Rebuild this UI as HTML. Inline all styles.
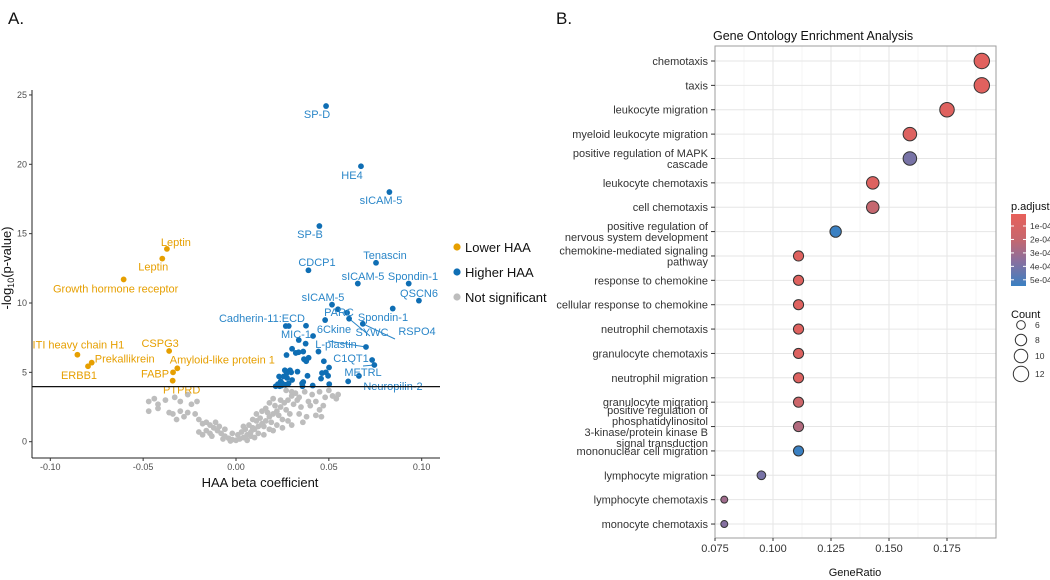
<!DOCTYPE html>
<html><head><meta charset="utf-8"><style>
body{margin:0;background:#fff;}
svg{display:block;font-family:"Liberation Sans",sans-serif;}
</style></head><body>
<svg id="s" width="1050" height="580" viewBox="0 0 1050 580">
<defs><linearGradient id="cb" x1="0" y1="0" x2="0" y2="1"><stop offset="0" stop-color="#e8605a"/><stop offset="0.35" stop-color="#c6676e"/><stop offset="0.65" stop-color="#8a6f9e"/><stop offset="1" stop-color="#3a80c2"/></linearGradient></defs>
<text x="8" y="24" font-size="17" fill="#111">A.</text>
<text x="556" y="24" font-size="17" fill="#111">B.</text>
<g id="A"></g>
<g id="B"></g>
</svg>
<script>
const NS='http://www.w3.org/2000/svg';
function mk(p,t,a,txt){const e=document.createElementNS(NS,t);for(const k in a)e.setAttribute(k,a[k]);if(txt!==undefined)e.textContent=txt;p.appendChild(e);return e;}
// ---------- Volcano data ----------
const xTicks=[-0.10,-0.05,0.00,0.05,0.10];
const xTickLabels=['-0.10','-0.05','0.00','0.05','0.10'];
const yTicks=[0,5,10,15,20,25];
const threshold=3.97;
const lowNames=['Leptin','Leptin','Growth hormone receptor','ITI heavy chain H1','Prekallikrein','ERBB1','CSPG3','Amyloid-like protein 1','FABP','PTPRD'];
const lowBeta=[-0.0372,-0.0397,-0.0605,-0.0854,-0.0777,-0.0797,-0.036,-0.0316,-0.0339,-0.0341];
const lowLogP=[13.9,13.2,11.7,6.27,5.7,5.44,6.54,5.29,5.0,4.4];
const lowLabelDx=[9,-9,-8,1,33,-9,-9,45,-18,9];
const lowLabelDy=[-7,8,9,-10,-4,9,-8,-9,1,9];
const highNames=['SP-D','HE4','sICAM-5','SP-B','Tenascin','CDCP1','sICAM-5','Spondin-1','QSCN6','sICAM-5','PARC','Spondin-1','Cadherin-11:ECD','6Ckine','MIC-1','SYWC','RSPO4','L-plastin','C1QT1','METRL','Neuropilin-2'];
const highBeta=[0.0485,0.0673,0.0826,0.0449,0.0754,0.039,0.0656,0.093,0.0985,0.0517,0.0549,0.0844,0.0377,0.048,0.0415,0.0609,0.0683,0.070,0.0733,0.0662,0.0745];
const highLogP=[24.2,19.86,18.0,15.55,12.9,12.36,11.4,11.4,10.17,9.88,9.55,9.6,8.36,8.77,7.62,8.87,8.5,6.83,5.89,4.74,5.53];
const highLabelX=[317,352,381,310,385,317,363,413,419,323,339,383,262,334,296,372,417,336,351,363,393];
const highLabelY=[114,175,200,234,255,262,276,276,293,297,312,317,318,329,334,332,331,344,358,372,386];
const hiBeta=[0.0598,0.0268,0.0284,0.0338,0.0375,0.0302,0.0322,0.0337,0.0272,0.0362,0.0391,0.0444,0.0366,0.0378,0.0473,0.0263,0.0291,0.0297,0.0273,0.0331,0.0501,0.0484,0.0463,0.0256,0.0275,0.0302,0.0232,0.0241,0.0249,0.0235,0.0214,0.0226,0.0245,0.0265,0.0283,0.0356,0.0358,0.0385,0.0413,0.0458,0.0496,0.0502,0.0604,0.0362];
const hiLogP=[9.3,8.34,8.34,7.33,7.07,6.7,6.4,6.45,6.25,6.5,6.05,6.5,5.95,5.8,5.8,5.15,5.15,5.0,4.95,5.05,5.35,5.0,4.95,4.7,4.6,4.45,4.7,4.35,4.2,4.0,4.0,4.15,4.05,4.1,4.2,4.2,4.0,4.75,4.05,4.55,4.75,4.15,4.35,4.3];
const grayBeta=[0,0.002,-0.002,0.004,-0.004,0.006,-0.006,0.008,-0.008,0.01,-0.01,0.012,0.014,0.016,0.018,0.02,0.022,0.024,0.026,0.028,0.03,0.032,0.001,0.003,0.005,0.007,0.009,0.011,0.013,0.015,0.017,0.019,0.021,0.023,0.025,0.027,0.029,0.031,0.033,0.035,0.037,0.039,0.041,0.043,0.045,0.047,0.05,0.052,0.054,0.038,0.034,0.036,0.028,0.022,0.018,0.012,0.008,-0.012,-0.014,-0.016,-0.018,-0.02,-0.022,-0.024,-0.021,-0.026,-0.028,-0.03,-0.032,-0.034,-0.036,-0.038,-0.042,-0.044,-0.047,-0.047,-0.042,-0.033,-0.03,-0.026,-0.016,-0.014,-0.018,-0.02,-0.003,0.006,0.01,0.015,0.02,0.025,0.03,0.016,0.024,0.027,0.03,0.034,0.04,0.045,0.048,0.018,0.02,0.011,0.014,0.009,0.004,-0.002,-0.006,-0.009,-0.011,-0.013,-0.007,0.043,0.046,0.055];
const grayLogP=[0.1,0.2,0.15,0.3,0.25,0.5,0.4,0.7,0.6,0.9,0.8,1.1,1.3,1.5,1.8,2.0,2.2,2.5,2.8,3.0,3.3,3.5,0.5,0.7,0.9,1.2,1.0,1.5,1.7,1.1,2.1,1.4,2.6,1.9,1.6,2.3,2.0,2.7,3.0,2.5,3.6,2.9,3.4,1.9,2.3,2.6,3.7,3.3,3.1,1.8,2.0,1.4,1.5,1.2,0.9,0.6,0.4,1.0,1.2,1.4,1.3,1.6,2.0,2.7,2.9,2.1,1.8,2.2,1.6,2.0,2.1,3.0,2.7,3.1,2.9,2.2,2.4,3.2,2.9,3.4,0.8,0.6,0.5,0.7,0.05,0.1,0.3,0.5,0.8,1.0,1.2,2.4,3.0,3.7,3.6,3.2,2.6,3.6,3.2,2.8,3.1,2.0,2.2,1.6,1.1,0.6,0.9,1.1,1.4,0.4,0.2,2.9,1.8,3.4];
const legendNames=['Lower HAA','Higher HAA','Not significant'];
// ---------- GO data ----------
const goTerms=[['chemotaxis'],['taxis'],['leukocyte migration'],['myeloid leukocyte migration'],['positive regulation of MAPK','cascade'],['leukocyte chemotaxis'],['cell chemotaxis'],['positive regulation of','nervous system development'],['chemokine-mediated signaling','pathway'],['response to chemokine'],['cellular response to chemokine'],['neutrophil chemotaxis'],['granulocyte chemotaxis'],['neutrophil migration'],['granulocyte migration'],['positive regulation of','phosphatidylinositol','3-kinase/protein kinase B','signal transduction'],['mononuclear cell migration'],['lymphocyte migration'],['lymphocyte chemotaxis'],['monocyte chemotaxis']];
const geneRatio=[0.190,0.190,0.175,0.159,0.159,0.143,0.143,0.127,0.111,0.111,0.111,0.111,0.111,0.111,0.111,0.111,0.111,0.095,0.079,0.079];
const geneCount=[12,12,11,10,10,9,9,8,7,7,7,7,7,7,7,7,7,6,5,5];
const pAdjust=[0.5e-4,0.5e-4,0.6e-4,0.7e-4,4.0e-4,0.7e-4,2.0e-4,5.5e-4,0.6e-4,0.6e-4,0.6e-4,0.6e-4,0.7e-4,0.7e-4,1.6e-4,2.5e-4,5.5e-4,4.0e-4,3.0e-4,3.7e-4];
const grTicks=[0.075,0.100,0.125,0.150,0.175];
const grTickLabels=['0.075','0.100','0.125','0.150','0.175'];
const pTicks=[1e-4,2e-4,3e-4,4e-4,5e-4];
const pTickLabels=['1e-04','2e-04','3e-04','4e-04','5e-04'];
const countLegend=[6,8,10,12];

// ---------- Volcano draw ----------
const A=document.getElementById('A');
const xs=v=>236+v*1857, ys=v=>441.7-v*13.87;
const ORANGE='#e69f00', BLUE='#0f6eb4', LBLUE='#2a86c8', GRAY='#bdbdbd';
grayBeta.forEach((b,i)=>{const c=mk(A,'circle',{cx:xs(b),cy:ys(grayLogP[i]),r:2.9,fill:GRAY});

});
hiBeta.forEach((b,i)=>{const c=mk(A,'circle',{cx:xs(b),cy:ys(hiLogP[i]),r:2.9,fill:BLUE});

});
const conn=[[15,-2,4],[16,-22,8],[17,-8,-3],[20,-30,-20]];
conn.forEach(([i,dx,dy])=>{mk(A,'line',{x1:xs(highBeta[i]),y1:ys(highLogP[i]),x2:highLabelX[i]+dx,y2:highLabelY[i]+dy,stroke:LBLUE,'stroke-width':1});});
highBeta.forEach((b,i)=>{const c=mk(A,'circle',{cx:xs(b),cy:ys(highLogP[i]),r:2.9,fill:BLUE});


const t=mk(A,'text',{x:highLabelX[i],y:highLabelY[i]+4,'font-size':11,fill:LBLUE,'text-anchor':'middle'},highNames[i]);

});
lowBeta.forEach((b,i)=>{const px=xs(b),py=ys(lowLogP[i]);const c=mk(A,'circle',{cx:px,cy:py,r:2.9,fill:ORANGE});


const t=mk(A,'text',{x:px+lowLabelDx[i],y:py+lowLabelDy[i]+4,'font-size':11,fill:ORANGE,'text-anchor':'middle'},lowNames[i]);

});
mk(A,'line',{x1:32,x2:440,y1:ys(threshold),y2:ys(threshold),stroke:'#111','stroke-width':1.2});
mk(A,'line',{x1:32,x2:32,y1:90,y2:458,stroke:'#222','stroke-width':1});
mk(A,'line',{x1:32,x2:440,y1:458,y2:458,stroke:'#222','stroke-width':1});
xTicks.forEach((v,i)=>{mk(A,'line',{x1:xs(v),x2:xs(v),y1:458,y2:461,stroke:'#333'});
const t=mk(A,'text',{x:xs(v),y:470,'font-size':9,fill:'#4d4d4d','text-anchor':'middle'},xTickLabels[i]);

});
yTicks.forEach(v=>{mk(A,'line',{x1:29,x2:32,y1:ys(v),y2:ys(v),stroke:'#333'});
const t=mk(A,'text',{x:27,y:ys(v)+3,'font-size':9,fill:'#4d4d4d','text-anchor':'end'},v);

});
const xt=mk(A,'text',{x:260,y:487,'font-size':13,fill:'#111','text-anchor':'middle'},'HAA beta coefficient');


const yt=mk(A,'text',{x:0,y:0,'font-size':13,fill:'#111','text-anchor':'middle',transform:'translate(11,268) rotate(-90)'});
yt.innerHTML='-log<tspan font-size="9" dy="3">10</tspan><tspan dy="-3">(p-value)</tspan>';


[ORANGE,BLUE,GRAY].forEach((c,i)=>{mk(A,'circle',{cx:457,cy:247+i*25,r:3.6,fill:c});
const t=mk(A,'text',{x:465,y:252+i*25,'font-size':13,fill:'#111'},legendNames[i]);

});

// ---------- GO draw ----------
const B=document.getElementById('B');
const L=715,R=996,T=46,Bt=538;
const gx=v=>715+(v-0.075)*2320;
const gy=i=>61+i*24.37;
const rr=c=>Math.sqrt(12.25+(c-5)*6.72);
function pcol(p){const stops=[[0,[232,96,90]],[0.35,[198,103,110]],[0.65,[138,111,158]],[1,[58,128,194]]];let t=(p-0.1e-4)/(5.45e-4-0.1e-4);t=Math.max(0,Math.min(1,t));for(let k=1;k<stops.length;k++){if(t<=stops[k][0]){const a=stops[k-1],b=stops[k],f=(t-a[0])/(b[0]-a[0]);return 'rgb('+a[1].map((v,j)=>Math.round(v+(b[1][j]-v)*f)).join(',')+')';}}return 'rgb(58,128,194)';}
mk(B,'rect',{x:L,y:T,width:R-L,height:Bt-T,fill:'#fff'});
grTicks.forEach(v=>mk(B,'line',{x1:gx(v+0.0125),x2:gx(v+0.0125),y1:T,y2:Bt,stroke:'#f3f3f3','stroke-width':0.8}));
grTicks.forEach(v=>mk(B,'line',{x1:gx(v),x2:gx(v),y1:T,y2:Bt,stroke:'#e6e6e6','stroke-width':1}));
goTerms.forEach((t,i)=>mk(B,'line',{x1:L,x2:R,y1:gy(i),y2:gy(i),stroke:'#e6e6e6','stroke-width':1}));
mk(B,'rect',{x:L,y:T,width:R-L,height:Bt-T,fill:'none',stroke:'#9e9e9e','stroke-width':1});
const tt=mk(B,'text',{x:713,y:40,'font-size':12.5,fill:'#111'},'Gene Ontology Enrichment Analysis');


goTerms.forEach((lines,i)=>{const y=gy(i);mk(B,'line',{x1:711,x2:715,y1:y,y2:y,stroke:'#333'});
const n=lines.length, lh=11;
const t=mk(B,'text',{'font-size':11,fill:'#333','text-anchor':'end'});
lines.forEach((s,k)=>{mk(t,'tspan',{x:708,y:y+4+(k-(n-1)/2)*lh},s);});


const c=mk(B,'circle',{cx:gx(geneRatio[i]),cy:y,r:rr(geneCount[i]),fill:pcol(pAdjust[i]),stroke:'#333','stroke-width':1});

});
grTicks.forEach((v,i)=>{mk(B,'line',{x1:gx(v),x2:gx(v),y1:Bt,y2:Bt+3,stroke:'#333'});
const t=mk(B,'text',{x:gx(v),y:Bt+14,'font-size':11,fill:'#333','text-anchor':'middle'},grTickLabels[i]);

});
const gt=mk(B,'text',{x:855,y:576,'font-size':11,fill:'#111','text-anchor':'middle'},'GeneRatio');


const pl=mk(B,'text',{x:1011,y:210,'font-size':11,fill:'#111'},'p.adjust');


mk(B,'rect',{x:1011,y:214,width:15,height:72,fill:'url(#cb)'});
const py=p=>226+(p-1e-4)/1e-4*13.45;
pTicks.forEach((p,i)=>{mk(B,'line',{x1:1011,x2:1014,y1:py(p),y2:py(p),stroke:'#fff'});mk(B,'line',{x1:1023,x2:1026,y1:py(p),y2:py(p),stroke:'#fff'});
const t=mk(B,'text',{x:1030,y:py(p)+3,'font-size':8.5,fill:'#333'},pTickLabels[i]);

});
const cl=mk(B,'text',{x:1011,y:318,'font-size':11,fill:'#111'},'Count');


const cy0=[325,340,356,374];
countLegend.forEach((c,i)=>{mk(B,'circle',{cx:1021,cy:cy0[i],r:rr(c),fill:'none',stroke:'#333','stroke-width':1});
const t=mk(B,'text',{x:1035,y:cy0[i]+3,'font-size':8.5,fill:'#333'},c);

});
</script>
</body></html>
